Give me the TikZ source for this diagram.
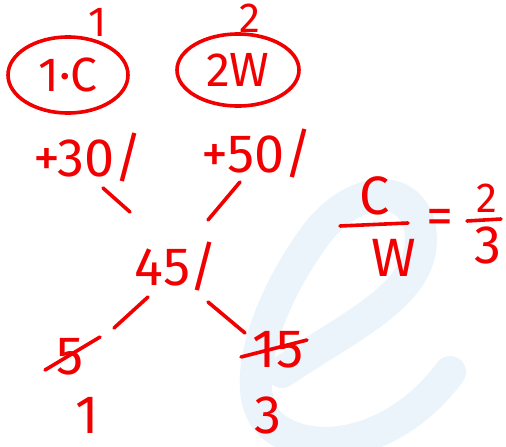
\documentclass[tikz,border=0pt]{standalone}
\usepackage{fontspec}
\setmainfont{Fira Sans}
\usetikzlibrary{positioning,shapes.geometric}
\definecolor{marcador}{HTML}{F00000}
\definecolor{marcaagua}{HTML}{EBF4FB}

\begin{document}
\begin{tikzpicture}[
  x=1pt,y=-1pt,
  ink/.style={draw=marcador,line width=3.6pt,line cap=round},
  txt/.style={text=marcador,inner sep=0pt,font=\fontsize{54}{54}\selectfont},
  small/.style={text=marcador,inner sep=0pt,font=\fontsize{42}{42}\selectfont},
  ring/.style={ellipse,draw=marcador,line width=3.6pt,inner sep=0pt,text=marcador,font=\fontsize{48}{48}\selectfont}
]
  \useasboundingbox (0,0) rectangle (506,447);
  \draw[marcaagua,line width=32pt,line cap=round]
    (282,372) .. controls (360,320) and (430,290) .. (420,228)
    .. controls (410,180) and (350,185) .. (312,240)
    .. controls (262,310) and (235,400) .. (275,428)
    .. controls (320,460) and (400,440) .. (450,372);

  \node[ring,minimum width=120pt,minimum height=76pt] (ringC) at (68,75) {1·C};
  \node[ring,minimum width=122pt,minimum height=72pt] (ringW) at (238,70) {2W};
  \node[small] (qC) at (98,22) {1};
  \node[small] (qW) at (250,18) {2};

  \node[txt] (p30) at (88,158) {+30/};
  \node[txt] (p50) at (257,154) {+50/};
  \node[txt] (mix) at (176,267) {45/};
  \node[txt] (c5) at (70,357) {5};
  \node[txt] (c15) at (278,350) {15};
  \node[txt] (r1) at (87,415) {1};
  \node[txt] (r3) at (268,415) {3};

  \node[txt] (fC) at (375,196) {C};
  \node[txt] (fW) at (394,258) {W};
  \node[txt] (eq) at (440,222) {=};
  \node[small] (fn) at (487,198) {2};
  \node[txt] (fd) at (488,245) {3};

  \draw[ink] ([shift={(15,30)}]p30.center) -- ([shift={(-46,-55)}]mix.center);
  \draw[ink] ([shift={(-17,28)}]p50.center) -- ([shift={(32,-47)}]mix.center);
  \draw[ink] ([shift={(-28,30)}]mix.center) -- ([shift={(-62,61)}]mix.center);
  \draw[ink] ([shift={(32,35)}]mix.center) -- ([shift={(69,66)}]mix.center);
  \draw[ink] ([shift={(-25,13)}]c5.center) -- ([shift={(30,-20)}]c5.center);
  \draw[ink] ([shift={(-37,7)}]c15.center) -- ([shift={(29,-10)}]c15.center);
  \draw[ink] ([shift={(-35,30)}]fC.center) -- ([shift={(33,27)}]fC.center);
  \draw[ink] ([shift={(-20,23)}]fn.center) -- ([shift={(14,21)}]fn.center);
\end{tikzpicture}
\end{document}
